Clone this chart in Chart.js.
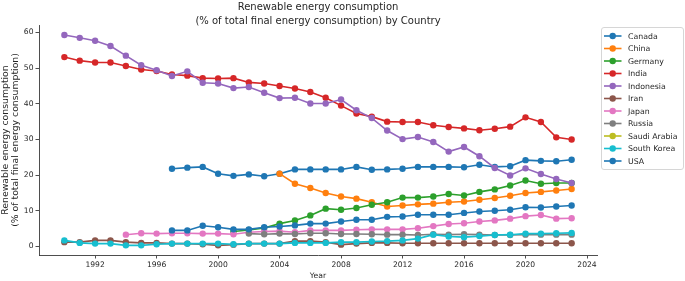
<!DOCTYPE html>
<html><head><meta charset="utf-8">
<script src="https://cdn.jsdelivr.net/npm/chart.js@4.4.1/dist/chart.umd.min.js"></script>
<style>html,body{margin:0;padding:0;background:#fff;}#wrap{position:relative;width:685px;height:281px;}</style>
</head><body><div id="wrap"><canvas id="c" width="685" height="281"></canvas></div>
<script>
const titleLines = ['Renewable energy consumption', '(% of total final energy consumption) by Country'];
const yTitle = ['Renewable energy consumption', '(% of total final energy consumption)'];
const xTitle = 'Year';
const years = [1990,1991,1992,1993,1994,1995,1996,1997,1998,1999,2000,2001,2002,2003,2004,2005,2006,2007,2008,2009,2010,2011,2012,2013,2014,2015,2016,2017,2018,2019,2020,2021,2022,2023];
const xTicks = [1992,1996,2000,2004,2008,2012,2016,2020,2024];
const yTicks = [0,10,20,30,40,50,60];
const countries = ['Canada','China','Germany','India','Indonesia','Iran','Japan','Russia','Saudi Arabia','South Korea','USA'];
const N = null;
const canada = [N,N,N,N,N,N,N,21.8,22.1,22.3,20.4,19.8,20.2,19.7,20.4,21.6,21.6,21.6,21.6,22.3,21.5,21.6,21.8,22.3,22.3,22.3,22.2,22.9,22.3,22.5,24.2,24.0,23.9,24.3];
const china = [N,N,N,N,N,N,N,N,N,N,N,N,N,N,20.4,17.6,16.4,15.0,14.0,13.4,12.4,11.2,11.5,11.8,12.0,12.4,12.6,13.1,13.6,14.2,15.0,15.3,15.7,16.1];
const germany = [N,N,N,N,N,N,N,N,N,N,N,4.2,4.6,5.2,6.4,7.3,8.7,10.6,10.3,10.8,11.7,12.4,13.7,13.7,14.0,14.7,14.3,15.3,16.0,17.1,18.5,17.6,17.8,17.8];
const india = [53.1,52.1,51.6,51.6,50.6,49.6,49.2,48.2,47.9,47.2,47.1,47.2,46.0,45.7,45.0,44.3,43.3,41.7,39.5,37.3,36.4,35.0,34.9,34.9,34.0,33.5,33.1,32.6,33.0,33.6,36.2,34.9,30.6,30.0];
const indonesia = [59.3,58.5,57.7,56.2,53.5,50.8,49.4,47.8,49.1,45.9,45.7,44.4,44.7,43.1,41.6,41.7,40.1,40.1,41.2,38.2,36.0,32.5,30.1,30.7,29.3,26.6,27.9,25.3,22.0,19.9,21.9,20.3,18.9,17.8];
const iran = [1.2,1.2,1.7,1.7,1.2,1.0,1.0,0.8,0.8,0.6,0.3,0.5,0.8,0.8,0.8,1.5,1.5,1.2,0.5,0.8,1.0,1.0,0.9,0.9,0.9,0.9,0.9,0.9,0.9,0.9,0.9,0.9,0.9,0.9];
const japan = [N,N,N,N,3.3,3.7,3.6,3.7,3.7,3.6,3.6,3.4,4.0,4.2,4.3,4.0,4.5,4.5,4.5,4.7,4.8,4.8,4.8,5.1,5.7,6.3,6.5,7.0,7.3,7.8,8.5,8.8,7.8,7.9];
const russia = [N,N,N,N,N,N,N,N,N,N,N,N,3.6,3.4,3.6,3.5,3.7,3.7,3.5,3.5,3.4,3.3,3.3,3.2,3.4,3.3,3.4,3.3,3.2,3.2,3.3,3.3,3.3,3.3];
const saudi = [N,N,N,N,N,N,N,N,N,N,N,N,N,N,N,N,N,N,N,N,N,N,N,N,N,N,N,N,N,N,N,N,N,N];
const southKorea = [1.7,1.0,0.8,0.8,0.3,0.3,0.6,0.8,0.8,0.8,0.8,0.6,0.8,0.8,0.8,1.0,1.0,1.0,1.2,1.2,1.4,1.5,1.7,2.2,3.3,2.8,2.6,2.9,3.2,3.3,3.6,3.6,3.7,3.8];
const usa = [N,N,N,N,N,N,N,4.5,4.5,5.8,5.4,4.8,4.8,5.4,5.6,5.9,6.4,6.4,7.0,7.5,7.5,8.3,8.4,8.9,8.9,8.9,9.4,9.8,10.0,10.3,11.0,10.9,11.2,11.5];
const seriesValues = [canada,china,germany,india,indonesia,iran,japan,russia,saudi,southKorea,usa];
const colors = ['#1f77b4','#ff7f0e','#2ca02c','#d62728','#9467bd','#8c564b','#e377c2','#7f7f7f','#bcbd22','#17becf','#1f77b4'];

const FONT = "'DejaVu Sans', sans-serif";
const TXT = '#262626';
const AX = '#3a3a3a';

const datasets = countries.map((name, i) => ({
  label: name,
  data: years.map((yr, k) => ({x: yr, y: seriesValues[i][k]})),
  borderColor: colors[i],
  backgroundColor: colors[i],
  pointBackgroundColor: colors[i],
  pointBorderColor: colors[i],
  borderWidth: 1.6,
  pointRadius: 3.2,
  pointBorderWidth: 0,
  pointHoverRadius: 3.2,
  spanGaps: false,
  tension: 0,
  fill: false,
  order: countries.length - i
}));

const overlay = {
  id: 'overlay',
  afterDraw(chart) {
    const ctx = chart.ctx;
    const ca = chart.chartArea;
    ctx.save();
    ctx.fillStyle = TXT;
    ctx.font = "10px " + FONT;
    ctx.textAlign = 'center';
    ctx.textBaseline = 'middle';
    const cx = (ca.left + ca.right) / 2;
    ctx.fillText(titleLines[0], cx, 7.5);
    ctx.fillText(titleLines[1], cx, 21);
    const bx = 601.5, by = 27.5, bw = 82, bh = 142;
    ctx.beginPath();
    ctx.roundRect(bx, by, bw, bh, 2.5);
    ctx.fillStyle = 'rgba(255,255,255,0.8)';
    ctx.fill();
    ctx.strokeStyle = '#d6d6d6';
    ctx.lineWidth = 1;
    ctx.stroke();
    ctx.font = "7.8px " + FONT;
    ctx.textAlign = 'left';
    countries.forEach((name, i) => {
      const y = 36 + i * 12.5;
      ctx.strokeStyle = colors[i];
      ctx.lineWidth = 1.6;
      ctx.beginPath();
      ctx.moveTo(604, y);
      ctx.lineTo(621.5, y);
      ctx.stroke();
      ctx.fillStyle = colors[i];
      ctx.beginPath();
      ctx.arc(612.7, y, 3.2, 0, Math.PI * 2);
      ctx.fill();
      ctx.fillStyle = TXT;
      ctx.fillText(name, 628, y + 0.5);
    });
    ctx.restore();
  }
};

new Chart(document.getElementById('c'), {
  type: 'line',
  data: {datasets},
  options: {
    responsive: false,
    animation: false,
    devicePixelRatio: 1,
    events: [],
    layout: {padding: {top: 25, right: 88, left: 0, bottom: 0}},
    plugins: {legend: {display: false}, tooltip: {enabled: false}, title: {display: false}},
    scales: {
      x: {
        type: 'linear',
        min: 1988.35,
        max: 2024.65,
        afterBuildTicks: s => { s.ticks = xTicks.map(v => ({value: v})); },
        afterFit: s => { s.height = 26; },
        ticks: {font: {family: FONT, size: 7.6}, color: TXT, padding: 1.5, maxRotation: 0, autoSkip: false, callback: v => String(v)},
        grid: {display: true, drawOnChartArea: false, drawTicks: true, tickLength: 3.5, color: AX, tickWidth: 0.9},
        border: {display: true, color: AX, width: 0.9},
        title: {display: true, text: xTitle, font: {family: FONT, size: 7.7}, color: TXT, padding: {top: 0, bottom: 0.5}}
      },
      y: {
        type: 'linear',
        min: -2.4,
        max: 62.1,
        afterBuildTicks: s => { s.ticks = yTicks.map(v => ({value: v})); },
        afterFit: s => { s.width = 39; },
        ticks: {font: {family: FONT, size: 7.6}, color: TXT, padding: 2, callback: v => String(v)},
        grid: {display: true, drawOnChartArea: false, drawTicks: true, tickLength: 3.5, color: AX, tickWidth: 0.9},
        border: {display: true, color: AX, width: 0.9},
        title: {display: true, text: yTitle, font: {family: FONT, size: 9.3, lineHeight: 1.1}, color: TXT, padding: {top: 0.5, bottom: 0}}
      }
    }
  },
  plugins: [overlay]
});
</script>
</body></html>
